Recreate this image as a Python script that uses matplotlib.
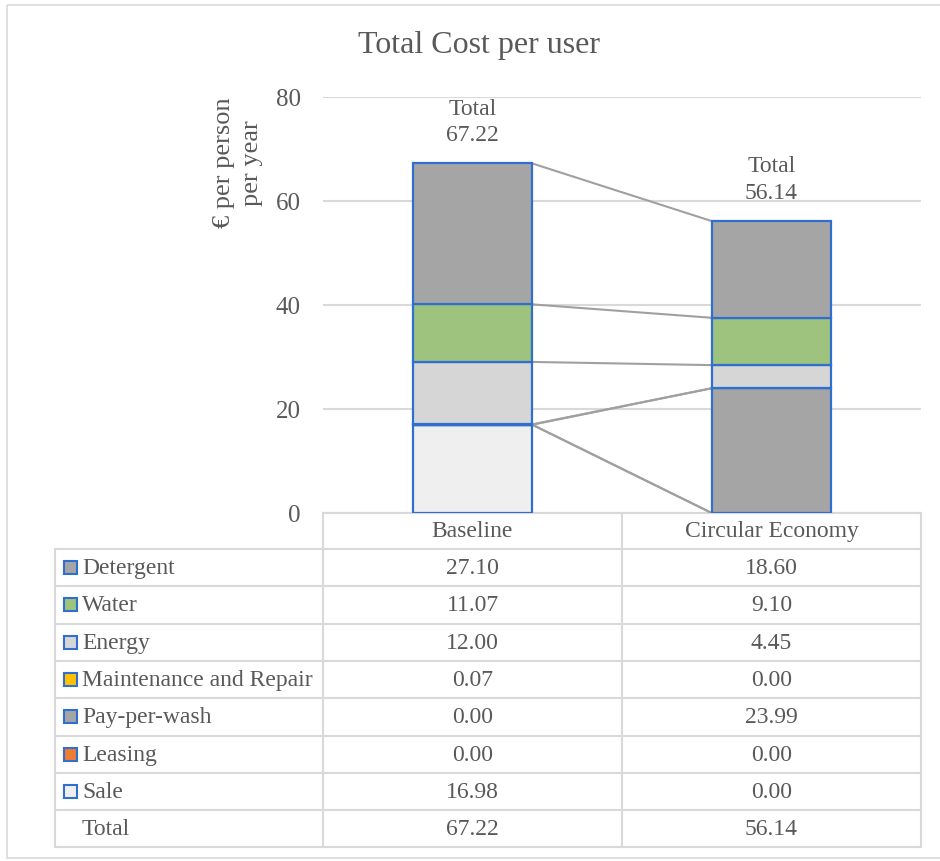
import matplotlib.pyplot as plt
import numpy as np
from matplotlib.patches import Rectangle

plt.rcParams['font.family'] = ['Liberation Serif', 'DejaVu Serif']

scenarios = ['Baseline', 'Circular Economy']
# stacking order, bottom to top
components = ['Sale', 'Leasing', 'Pay-per-wash', 'Maintenance and Repair',
              'Energy', 'Water', 'Detergent']
sale = [16.98, 0.00]
leasing = [0.00, 0.00]
pay_per_wash = [0.00, 23.99]
maintenance = [0.07, 0.00]
energy = [12.00, 4.45]
water = [11.07, 9.10]
detergent = [27.10, 18.60]
totals = [67.22, 56.14]

colors = ['#efefef', '#ed7d31', '#a5a5a5', '#ffc000', '#d6d6d6', '#9dc37e', '#a5a5a5']
edge = '#2f6fcf'
txt = '#595959'
grid = '#d9d9d9'
fs = 17

W, H = 940, 862
fig = plt.figure(figsize=(W / 100, H / 100), dpi=100)

# pixel-space overlay for the frame and the data table
bg = fig.add_axes([0, 0, 1, 1], zorder=0)
bg.set_xlim(0, W)
bg.set_ylim(H, 0)
bg.axis('off')
bg.add_patch(Rectangle((7, 6), 960, 853, fill=False, ec=grid, lw=1.2))

# chart area
x0, x1, ytop, ybot = 323, 921, 98, 514
ax = fig.add_axes([x0 / W, 1 - ybot / H, (x1 - x0) / W, (ybot - ytop) / H], zorder=1)
ax.patch.set_alpha(0)
ax.set_xlim(-0.5, 1.5)
ax.set_ylim(0, 80)
ax.set_yticks([0, 20, 40, 60, 80])
ax.yaxis.grid(True, color=grid, lw=1.5)
ax.set_axisbelow(True)
ax.set_xticks([])
for s in ax.spines.values():
    s.set_visible(False)
ax.tick_params(axis='y', length=0, pad=16, labelsize=18, labelcolor=txt)

series = [sale, leasing, pay_per_wash, maintenance, energy, water, detergent]
x = np.arange(len(scenarios))
bw = 0.4
bottom = np.zeros(len(scenarios))
for vals, c in zip(series, colors):
    vals = np.array(vals)
    ax.bar(x, vals, bw, bottom=bottom, color=c, edgecolor=edge, lw=1.6, zorder=3)
    top = bottom + vals
    ax.plot([x[0] + bw / 2, x[1] - bw / 2], top, color='#a0a0a0', lw=1.5, zorder=2)
    bottom = top

for xi, t in zip(x, totals):
    ax.annotate(f'Total\n{t:.2f}', (xi, t), xytext=(0, 13), textcoords='offset points',
                ha='center', va='bottom', fontsize=fs, color=txt, linespacing=1.35)

fig.text(479 / W, 1 - 45 / H, 'Total Cost per user', ha='center', va='center',
         fontsize=23, color=txt)
fig.text(238 / W, 1 - 163 / H, '€ per person\nper year', rotation=90, ha='center',
         va='center', multialignment='center', fontsize=19, color=txt, linespacing=1.3)

# data table below the chart
tl, cx = 55, [323, 622, 921]
rows_top, row_h = 550, 37.3
rows = ['Detergent', 'Water', 'Energy', 'Maintenance and Repair', 'Pay-per-wash',
        'Leasing', 'Sale', 'Total']
row_vals = [detergent, water, energy, maintenance, pay_per_wash, leasing, sale, totals]
key_cols = ['#a5a5a5', '#9dc37e', '#d6d6d6', '#ffc000', '#a5a5a5', '#ed7d31', '#efefef', None]
n = len(rows)
ybottom = rows_top + n * row_h
lk = dict(color=grid, lw=1.5, zorder=1)
bg.plot([x0, x1], [ybot, ybot], **lk)
bg.plot([tl, x1], [rows_top, rows_top], **lk)
for i in range(1, n + 1):
    bg.plot([tl, x1], [rows_top + i * row_h] * 2, **lk)
bg.plot([tl, tl], [rows_top, ybottom], **lk)
for c in cx:
    bg.plot([c, c], [ybot, ybottom], **lk)
for j, name in enumerate(scenarios):
    bg.text((cx[j] + cx[j + 1]) / 2, (ybot + rows_top) / 2, name, ha='center',
            va='center', fontsize=fs, color=txt)
for i, (r, v, kc) in enumerate(zip(rows, row_vals, key_cols)):
    yc = rows_top + (i + 0.5) * row_h
    if kc is not None:
        bg.add_patch(Rectangle((63.5, yc - 6.5), 13, 13, fc=kc, ec=edge, lw=1.5))
    bg.text(82, yc, r, ha='left', va='center', fontsize=fs, color=txt)
    for j in range(len(scenarios)):
        bg.text((cx[j] + cx[j + 1]) / 2, yc, f'{v[j]:.2f}', ha='center', va='center',
                fontsize=fs, color=txt)

fig.savefig('out.png', dpi=100)
